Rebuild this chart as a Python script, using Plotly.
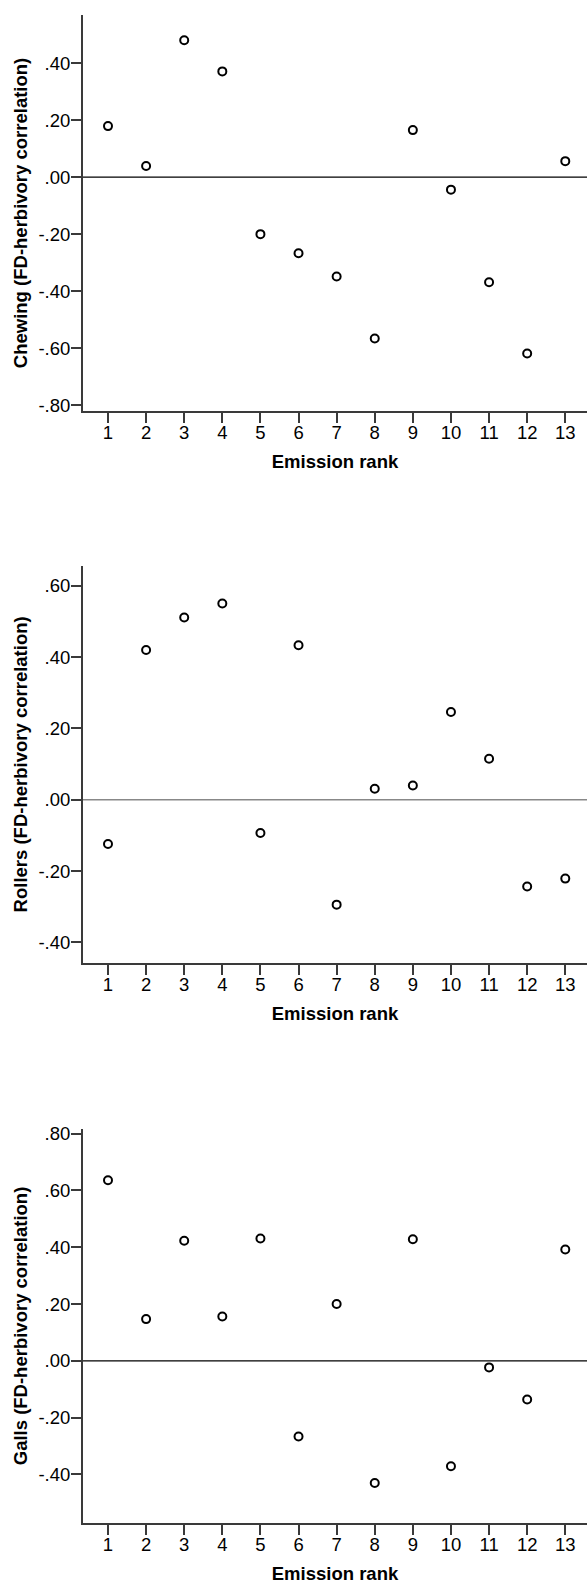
import plotly.graph_objects as go

W, H = 587, 1591

rank = list(range(1, 14))
chewing = [0.179, 0.039, 0.480, 0.371, -0.200, -0.267, -0.349, -0.566, 0.165, -0.044, -0.369, -0.619, 0.056]
rollers = [-0.124, 0.420, 0.511, 0.550, -0.093, 0.433, -0.294, 0.031, 0.040, 0.246, 0.115, -0.243, -0.221]
galls = [0.636, 0.147, 0.423, 0.156, 0.431, -0.266, 0.200, -0.430, 0.428, -0.371, -0.023, -0.136, 0.392]

y_titles = ["Chewing (FD-herbivory correlation)",
            "Rollers (FD-herbivory correlation)",
            "Galls (FD-herbivory correlation)"]
x_title = "Emission rank"

tick1_vals = [0.4, 0.2, 0.0, -0.2, -0.4, -0.6, -0.8]
tick1_text = [".40", ".20", ".00", "-.20", "-.40", "-.60", "-.80"]
tick2_vals = [0.6, 0.4, 0.2, 0.0, -0.2, -0.4]
tick2_text = [".60", ".40", ".20", ".00", "-.20", "-.40"]
tick3_vals = [0.8, 0.6, 0.4, 0.2, 0.0, -0.2, -0.4]
tick3_text = [".80", ".60", ".40", ".20", ".00", "-.20", "-.40"]

series = [chewing, rollers, galls]
ticks = [(tick1_vals, tick1_text), (tick2_vals, tick2_text), (tick3_vals, tick3_text)]
# pixel layout (top, bottom) and y-range
px = [(9.3, 407.5), (564.0, 963.3), (1131.0, 1527.3)]
yr = [(-0.8195, 0.568), (-0.4566, 0.655), (-0.5699, 0.8157)]
zero_style = [("black", 1.2), ("#888888", 1.6), ("black", 1.2)]

FONT = "Liberation Sans, Arial, sans-serif"
AX = "#3a3a3a"
FS = 18.5

fig = go.Figure()
layout = dict(
    width=W, height=H,
    margin=dict(l=83, r=0, t=0, b=0),
    paper_bgcolor="white", plot_bgcolor="white",
    showlegend=False,
    font=dict(family=FONT, size=FS, color="black"),
    shapes=[],
)

for i in range(3):
    n = "" if i == 0 else str(i + 1)
    xa, ya = "x" + n, "y" + n
    fig.add_trace(go.Scatter(
        x=rank, y=series[i], mode="markers", xaxis=xa, yaxis=ya,
        marker=dict(symbol="circle-open", size=8, color="black",
                    line=dict(width=2, color="black")),
        cliponaxis=False,
    ))
    top, bot = px[i]
    layout["xaxis" + n] = dict(
        domain=[0, 1], anchor=ya, range=[0.344, 13.57],
        tickvals=rank, ticktext=[str(r) for r in rank],
        ticks="outside", ticklen=10, tickwidth=1.5, tickcolor=AX,
        ticklabelstandoff=-6,
        showline=True, linecolor=AX, linewidth=2,
        showgrid=False, zeroline=False,
        tickfont=dict(size=FS, family=FONT, color="black"),
        title=dict(text="<b>" + x_title + "</b>", standoff=13,
                   font=dict(size=FS, family=FONT, color="black")),
    )
    layout["yaxis" + n] = dict(
        domain=[1 - bot / H, 1 - top / H], anchor=xa, range=list(yr[i]),
        tickvals=ticks[i][0], ticktext=ticks[i][1],
        ticks="outside", ticklen=10, tickwidth=1.5, tickcolor=AX,
        ticklabelstandoff=-3,
        showline=True, linecolor=AX, linewidth=2,
        showgrid=False, zeroline=False,
        tickfont=dict(size=FS, family=FONT, color="black"),
        title=dict(text="<b>" + y_titles[i] + "</b>", standoff=6,
                   font=dict(size=FS, family=FONT, color="black")),
    )
    col, lw = zero_style[i]
    layout["shapes"].append(dict(
        type="line", xref=xa + " domain", yref=ya, x0=0, x1=1, y0=0, y1=0,
        line=dict(color=col, width=lw), layer="below"))

fig.update_layout(**layout)
fig.write_html("out.html")
